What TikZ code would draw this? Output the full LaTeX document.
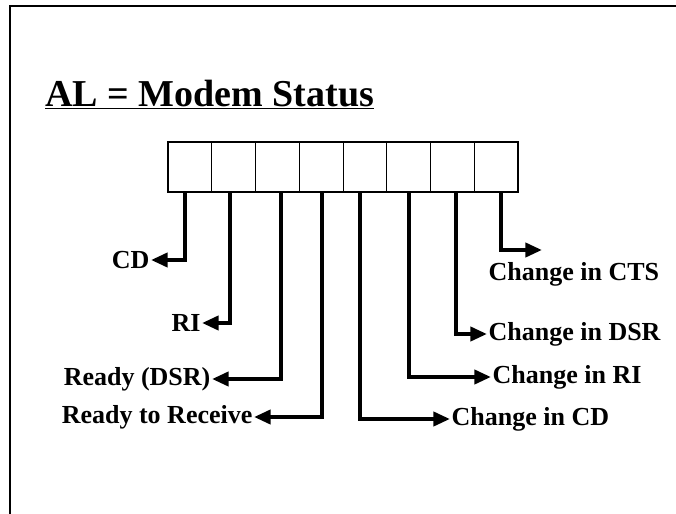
\documentclass[tikz,border=0pt]{standalone}
\usepackage{fontspec}
\setmainfont{Liberation Serif}
\usetikzlibrary{arrows.meta, positioning}

\begin{document}
\begin{tikzpicture}[x=0.75pt, y=-0.75pt,
  cell/.style={draw, line width=0.7pt, minimum width=32.8pt, minimum height=37.5pt, inner sep=0pt, outer sep=0pt},
  lbl/.style={font=\fontsize{19.5}{22}\selectfont\bfseries, inner sep=1pt},
  arr/.style={-{Triangle[length=12.5pt, width=10.5pt]}, line width=3pt}
]
  \useasboundingbox (0,0) rectangle (676,514);
  % slide frame
  \draw[line width=2.2pt] (10,514) -- (10,6) -- (676,6);

  \node[anchor=base west, inner sep=0pt, font=\fontsize{28.5}{32}\selectfont\bfseries] (title) at (45,106) {\underline{AL = Modem Status}};

  % the eight bits of AL
  \foreach \i in {0,...,7}
    \node[cell, anchor=north west] (c\i) at ({168+43.75*\i},142) {};
  \draw[line width=1.6pt] (c0.north west) rectangle (c7.south east);

  % labels
  \node[lbl, anchor=east] (cd) at (151,260) {CD};
  \node[lbl, anchor=east] (ri) at (202,323) {RI};
  \node[lbl, anchor=east] (dsr) at (212,379) {Ready (DSR)};
  \node[lbl, anchor=east] (rtr) at (254,417) {Ready to Receive};
  \node[lbl, anchor=west] (dcd) at (450,419) {Change in CD};
  \node[lbl, anchor=west] (dri) at (491,377) {Change in RI};
  \node[lbl, anchor=west] (ddsr) at (487,334) {Change in DSR};
  \coordinate (ctstip) at (542,250);
  \node[lbl, anchor=west] (dcts) at (487,274) {Change in CTS};

  \draw[arr] ([shift={(-5,0)}]c0.south) |- (cd.east);
  \draw[arr] ([shift={(-4,0)}]c1.south) |- (ri.east);
  \draw[arr] ([shift={(3.6,0)}]c2.south) |- (dsr.east);
  \draw[arr] ([shift={(1,0)}]c3.south) |- (rtr.east);
  \draw[arr] ([shift={(-5,0)}]c4.south) |- (dcd.west);
  \draw[arr] ([shift={(0.7,0)}]c5.south) |- (dri.west);
  \draw[arr] ([shift={(3.3,0)}]c6.south) |- (ddsr.west);
  \draw[arr] ([shift={(4.6,0)}]c7.south) |- (ctstip);
\end{tikzpicture}
\end{document}
